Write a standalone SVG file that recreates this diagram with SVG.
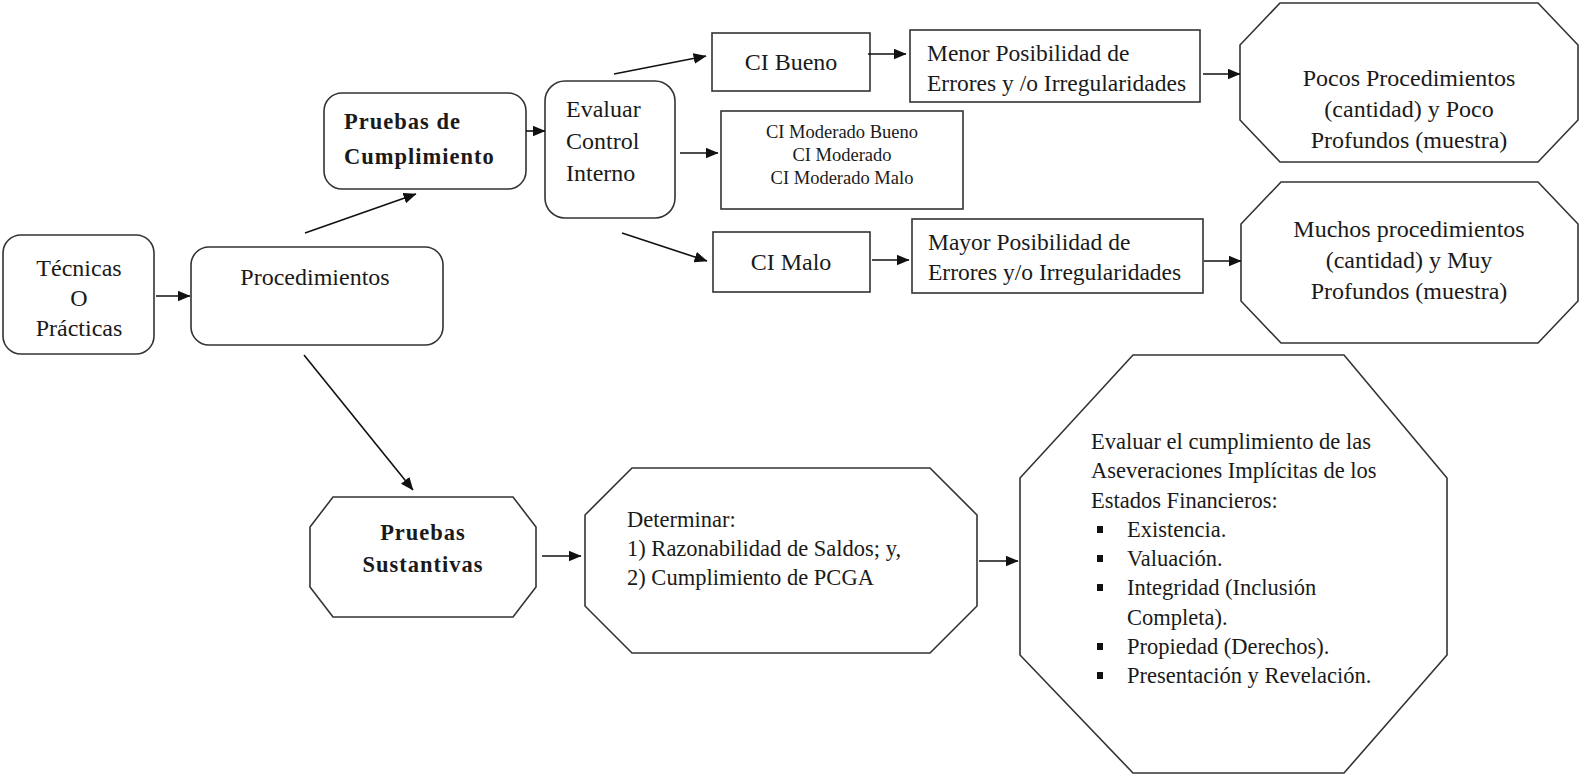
<svg xmlns="http://www.w3.org/2000/svg" width="1579" height="774" viewBox="0 0 1579 774">
  <defs>
    <marker id="arrow" viewBox="0 0 12 10" refX="11.5" refY="5" markerWidth="13" markerHeight="11" markerUnits="userSpaceOnUse" orient="auto">
      <path d="M0,0 L12,5 L0,10 z" fill="#111"/>
    </marker>
    <style>
      .box { fill: #fff; stroke: #333; stroke-width: 1.6; }
      .t { font-family: "Liberation Serif", "Times New Roman", serif; fill: #1a1a1a; }
      .big { font-size: 24px; }
      .med { font-size: 23.5px; }
      .mid { font-size: 22.5px; }
      .oct { font-size: 22.5px; }
      .small { font-size: 18.5px; }
      .b { font-weight: bold; letter-spacing: 1px; font-size: 22.5px; }
      .c { text-anchor: middle; }
      .conn line { stroke: #111; stroke-width: 1.6; marker-end: url(#arrow); }
    </style>
  </defs>
  <rect width="1579" height="774" fill="#fff"/>

  <g id="tecnicas">
    <rect class="box" x="3" y="235" width="151" height="119" rx="18"/>
    <text class="t big c" x="79" y="276">Técnicas</text>
    <text class="t big c" x="79" y="306">O</text>
    <text class="t big c" x="79" y="336">Prácticas</text>
  </g>

  <g id="procedimientos">
    <rect class="box" x="191" y="247" width="252" height="98" rx="18"/>
    <text class="t big c" x="315" y="285">Procedimientos</text>
  </g>

  <g id="pruebas-cumplimiento">
    <rect class="box" x="324" y="93" width="202" height="96" rx="18"/>
    <text class="t b" x="344" y="129">Pruebas  de</text>
    <text class="t b" x="344" y="164">Cumplimiento</text>
  </g>

  <g id="evaluar-ci">
    <rect class="box" x="545" y="81" width="130" height="137" rx="20"/>
    <text class="t big" x="566" y="117">Evaluar</text>
    <text class="t big" x="566" y="149">Control</text>
    <text class="t big" x="566" y="181">Interno</text>
  </g>

  <g id="ci-bueno">
    <rect class="box" x="712" y="33" width="158" height="58"/>
    <text class="t big c" x="791" y="70">CI Bueno</text>
  </g>

  <g id="menor-posibilidad">
    <rect class="box" x="910" y="30" width="290" height="72"/>
    <text class="t med" x="927" y="61">Menor Posibilidad de</text>
    <text class="t med" x="927" y="91">Errores y /o Irregularidades</text>
  </g>

  <g id="pocos-procedimientos">
    <polygon class="box" points="1280,3 1538,3 1578,45 1578,120 1538,162 1280,162 1240,120 1240,45"/>
    <text class="t big c" x="1409" y="86">Pocos Procedimientos</text>
    <text class="t big c" x="1409" y="117">(cantidad) y Poco</text>
    <text class="t big c" x="1409" y="148">Profundos (muestra)</text>
  </g>

  <g id="ci-moderado">
    <rect class="box" x="721" y="111" width="242" height="98"/>
    <text class="t small c" x="842" y="138">CI Moderado Bueno</text>
    <text class="t small c" x="842" y="161">CI Moderado</text>
    <text class="t small c" x="842" y="184">CI Moderado Malo</text>
  </g>

  <g id="ci-malo">
    <rect class="box" x="713" y="232" width="157" height="60"/>
    <text class="t big c" x="791" y="270">CI Malo</text>
  </g>

  <g id="mayor-posibilidad">
    <rect class="box" x="912" y="219" width="291" height="74"/>
    <text class="t med" x="928" y="250">Mayor Posibilidad de</text>
    <text class="t med" x="928" y="280">Errores y/o Irregularidades</text>
  </g>

  <g id="muchos-procedimientos">
    <polygon class="box" points="1281,182 1538,182 1578,224 1578,301 1538,343 1281,343 1241,301 1241,224"/>
    <text class="t big c" x="1409" y="237">Muchos procedimientos</text>
    <text class="t big c" x="1409" y="268">(cantidad) y Muy</text>
    <text class="t big c" x="1409" y="299">Profundos (muestra)</text>
  </g>

  <g id="pruebas-sustantivas">
    <polygon class="box" points="333,497 513,497 536,527 536,587 513,617 333,617 310,587 310,527"/>
    <text class="t b c" x="423" y="540">Pruebas</text>
    <text class="t b c" x="423" y="572">Sustantivas</text>
  </g>

  <g id="determinar">
    <polygon class="box" points="632,468 930,468 977,515 977,606 930,653 632,653 585,606 585,515"/>
    <text class="t mid" x="627" y="527">Determinar:</text>
    <text class="t mid" x="627" y="556">1) Razonabilidad de Saldos; y,</text>
    <text class="t mid" x="627" y="585">2) Cumplimiento de PCGA</text>
  </g>

  <g id="aseveraciones">
    <polygon class="box" points="1133,355 1344,355 1447,478 1447,655 1344,773 1133,773 1020,655 1020,478"/>
    <g class="t oct">
      <text x="1091" y="449">Evaluar el cumplimiento de las</text>
      <text x="1091" y="478">Aseveraciones Implícitas de los</text>
      <text x="1091" y="507.5">Estados Financieros:</text>
      <text x="1127" y="537">Existencia.</text>
      <text x="1127" y="566">Valuación.</text>
      <text x="1127" y="595">Integridad (Inclusión</text>
      <text x="1127" y="624.5">Completa).</text>
      <text x="1127" y="654">Propiedad (Derechos).</text>
      <text x="1127" y="683">Presentación y Revelación.</text>
    </g>
    <g fill="#111">
      <rect x="1097" y="526" width="6" height="7"/>
      <rect x="1097" y="555" width="6" height="7"/>
      <rect x="1097" y="584" width="6" height="7"/>
      <rect x="1097" y="643" width="6" height="7"/>
      <rect x="1097" y="672" width="6" height="7"/>
    </g>
  </g>

  <g id="connectors" class="conn">
    <line x1="156" y1="296" x2="190" y2="296"/>
    <line x1="305" y1="233" x2="416" y2="194"/>
    <line x1="526" y1="131" x2="545" y2="131"/>
    <line x1="614" y1="74" x2="706" y2="56"/>
    <line x1="868" y1="54" x2="906" y2="54"/>
    <line x1="1203" y1="74" x2="1240" y2="74"/>
    <line x1="680" y1="153" x2="718" y2="153"/>
    <line x1="622" y1="233" x2="707" y2="261"/>
    <line x1="872" y1="260" x2="909" y2="260"/>
    <line x1="1204" y1="261" x2="1241" y2="261"/>
    <line x1="304" y1="355" x2="413" y2="490"/>
    <line x1="542" y1="556" x2="581" y2="556"/>
    <line x1="979" y1="561" x2="1018" y2="561"/>
  </g>
</svg>
